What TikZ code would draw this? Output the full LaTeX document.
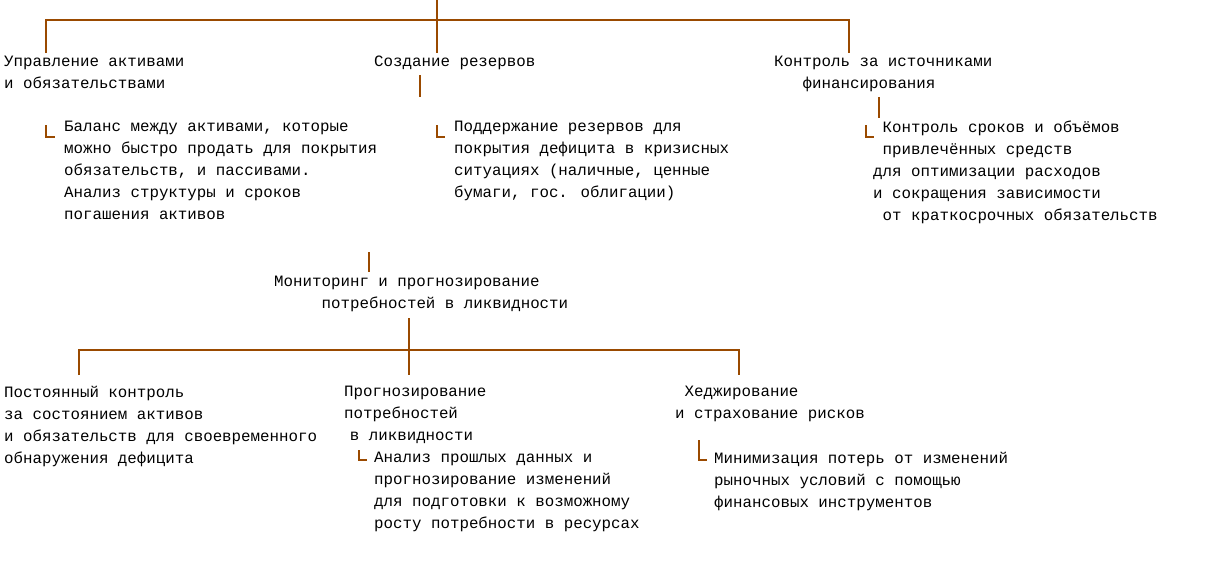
\documentclass[tikz,border=0pt]{standalone}
\usepackage{fontspec}
\setmainfont{Liberation Mono}
\usetikzlibrary{positioning}
\definecolor{branch}{HTML}{9A4A00}
\tikzset{
  txt/.style={anchor=north west, inner sep=0pt, align=left,
    font=\fontsize{15.8}{22}\selectfont},
  link/.style={draw=branch, line width=1.2pt}
}
\newcommand{\ind}[1]{\hspace*{#1\dimexpr 9.5pt\relax}}
\begin{document}
\begin{tikzpicture}[x=1pt,y=-1pt]
  \useasboundingbox (0,0) rectangle (1222,582);

  % first level
  \node [txt] (assets) at (4,56) {Управление активами\\и обязательствами};
  \node [txt] (reserves) at (374,56) {Создание резервов};
  \node [txt] (sources) at (774,56) {Контроль за источниками\\\ind{3}финансирования};

  \node [txt] (assetsD) at (64,121) {Баланс между активами, которые\\можно быстро продать для покрытия\\обязательств, и пассивами.\\Анализ структуры и сроков\\погашения активов};
  \node [txt] (reservesD) at (454,121) {Поддержание резервов для\\покрытия дефицита в кризисных\\ситуациях (наличные, ценные\\бумаги, гос. облигации)};
  \node [txt] (sourcesD) at (873,121) {\ind{1}Контроль сроков и объёмов\\\ind{1}привлечённых средств\\для оптимизации расходов\\и сокращения зависимости\\\ind{1}от краткосрочных обязательств};

  \coordinate (root) at (437,0);
  \draw [link] (root) -- (437,20);
  \draw [link] (46,53) -- (46,20) -- (849,20) -- (849,53);
  \draw [link] (437,20) -- (437,53);
  \draw [link] (46,125) |- (55,137);
  \draw [link] (420,75) -- (420,97);
  \draw [link] (437,125) |- (445,137);
  \draw [link] (879,97) -- (879,118);
  \draw [link] (866,125) |- (874,137);

  % monitoring
  \node [txt] (monitor) at (274,276) {Мониторинг и прогнозирование\\\ind{5}потребностей в ликвидности};
  \draw [link] (369,252) -- (369,272);
  \draw [link] (409,318) -- (409,375);
  \draw [link] (79,375) -- (79,350) -- (739,350) -- (739,375);

  \node [txt] (control) at (4,386) {Постоянный контроль\\за состоянием активов\\и обязательств для своевременного\\обнаружения дефицита};
  \node [txt] (forecast) at (344,386) {Прогнозирование\\потребностей\\\ind{0.6}в ликвидности};
  \node [txt] (hedge) at (675,386) {\ind{1}Хеджирование\\и страхование рисков};

  \node [txt] (forecastD) at (374,452) {Анализ прошлых данных и\\прогнозирование изменений\\для подготовки к возможному\\росту потребности в ресурсах};
  \node [txt] (hedgeD) at (714,452) {Минимизация потерь от изменений\\рыночных условий с помощью\\финансовых инструментов};

  \draw [link] (359,450) |- (367,460);
  \draw [link] (699,440) |- (707,460);
\end{tikzpicture}
\end{document}
